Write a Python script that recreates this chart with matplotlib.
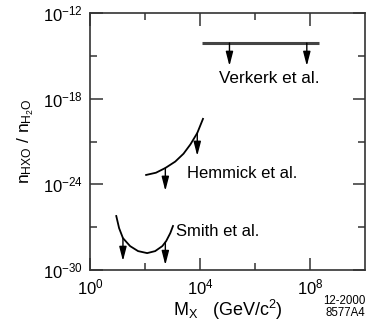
import matplotlib.pyplot as plt
from matplotlib.ticker import FixedLocator, NullFormatter

plt.rcParams['font.family'] = 'Liberation Sans'
plt.rcParams['mathtext.fontset'] = 'custom'
plt.rcParams['mathtext.rm'] = 'Liberation Sans'
plt.rcParams['mathtext.it'] = 'Liberation Sans'

# limits from each experiment, log10(M_X / GeV) and log10(n_HXO / n_H2O)
smith_logm = [0.95, 1.06, 1.20, 1.46, 1.75, 2.08, 2.37, 2.63, 2.77, 2.92, 3.03]
smith_logn = [-26.15, -27.06, -27.76, -28.32, -28.67, -28.81, -28.67, -28.32, -27.97, -27.41, -26.85]
smith_arrows = [1.20, 2.74]

hemmick_logm = [2.01, 2.40, 2.74, 3.10, 3.40, 3.65, 3.90, 4.12]
hemmick_logn = [-23.35, -23.18, -22.85, -22.40, -21.85, -21.20, -20.40, -19.35]
hemmick_arrows = [2.74, 3.90]

verkerk_logm = [4.09, 8.32]
verkerk_logn = [-14.1, -14.1]
verkerk_arrows = [5.07, 7.88]

labels = ['Smith et al.', 'Hemmick et al.', 'Verkerk et al.']

arrow_len = 1.6  # decades

fig = plt.figure(figsize=(3.67, 3.27), dpi=100)
ax = fig.add_axes([0.245, 0.174, 0.75, 0.786])
ax.set_xscale('log')
ax.set_yscale('log')
ax.set_xlim(1e0, 1e10)
ax.set_ylim(1e-30, 1e-12)


def draw_limit(logm, logn, arrows, lw=1.3, color='black'):
    ax.plot([10 ** m for m in logm], [10 ** n for n in logn], color=color, lw=lw,
            solid_capstyle='butt')
    for a in arrows:
        # arrow starts on the curve
        start = None
        for i in range(len(logm) - 1):
            if logm[i] <= a <= logm[i + 1]:
                f = (a - logm[i]) / (logm[i + 1] - logm[i])
                start = logn[i] + f * (logn[i + 1] - logn[i])
        ax.annotate('', xy=(10 ** a, 10 ** (start - arrow_len)), xytext=(10 ** a, 10 ** start),
                    arrowprops=dict(arrowstyle='-|>,head_length=0.85,head_width=0.22',
                                    color='black', lw=1.0, shrinkA=0, shrinkB=0))


draw_limit(smith_logm, smith_logn, smith_arrows)
draw_limit(hemmick_logm, hemmick_logn, hemmick_arrows)
draw_limit(verkerk_logm, verkerk_logn, verkerk_arrows, lw=2.2, color='#444444')

ax.text(10 ** 3.13, 10 ** -27.3, labels[0], fontsize=12, va='center', ha='left')
ax.text(10 ** 3.53, 10 ** -23.25, labels[1], fontsize=12, va='center', ha='left')
ax.text(10 ** 4.7, 10 ** -16.6, labels[2], fontsize=12.3, va='center', ha='left')

ax.xaxis.set_major_locator(FixedLocator([1e0, 1e4, 1e8]))
ax.xaxis.set_minor_locator(FixedLocator([1e2, 1e6]))
ax.yaxis.set_major_locator(FixedLocator([1e-30, 1e-24, 1e-18, 1e-12]))
ax.yaxis.set_minor_locator(FixedLocator([1e-27, 1e-21, 1e-15]))
ax.xaxis.set_minor_formatter(NullFormatter())
ax.yaxis.set_minor_formatter(NullFormatter())
ax.set_xticklabels([r'$10^{0}$', r'$10^{4}$', r'$10^{8}$'])
ax.set_yticklabels([r'$10^{-30}$', r'$10^{-24}$', r'$10^{-18}$', r'$10^{-12}$'])

ax.tick_params(which='both', direction='in', top=True, right=True, color='#333333',
               width=1.1, labelsize=12)
ax.tick_params(which='major', length=9, pad=5)
ax.tick_params(which='minor', length=5)
for s in ax.spines.values():
    s.set_color('#333333')
    s.set_linewidth(1.2)

ax.set_xlabel(r'$\mathregular{M_X}$   (GeV/c$^2$)', fontsize=13, labelpad=1)
ax.set_ylabel(r'$\mathregular{n_{HXO}\ /\ n_{H_2O}}$', fontsize=12.5, labelpad=5)

fig.text(0.995, 0.062, '12-2000\n8577A4', fontsize=8.3, ha='right', va='center',
         linespacing=1.05)

fig.savefig('out.png', dpi=100)
